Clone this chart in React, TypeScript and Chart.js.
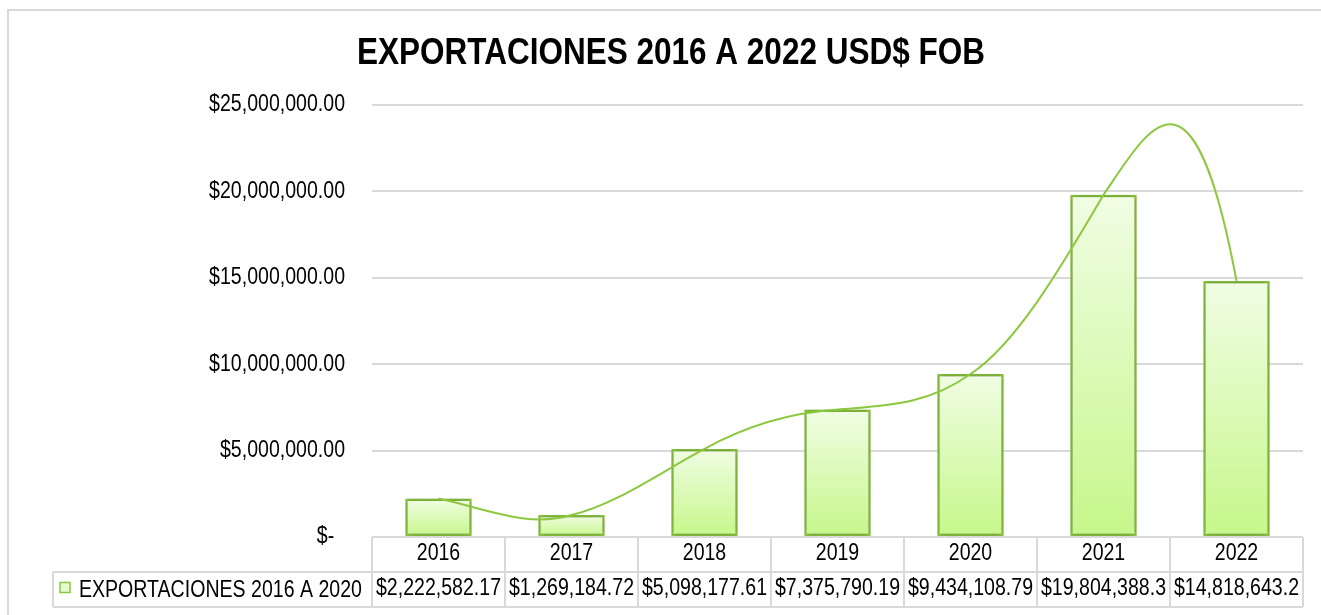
import React, { useEffect, useRef } from 'react';
import { Chart, registerables } from 'chart.js';

Chart.register(...registerables);

// ---------- data ----------
const chartTitle = 'EXPORTACIONES 2016 A 2022 USD$ FOB';
const seriesName = 'EXPORTACIONES 2016 A 2020';
const years = ['2016', '2017', '2018', '2019', '2020', '2021', '2022'];
const exportsUSD = [2222582.17, 1269184.72, 5098177.61, 7375790.19, 9434108.79, 19804388.3, 14818643.2];
const tableValueLabels = ['$2,222,582.17', '$1,269,184.72', '$5,098,177.61', '$7,375,790.19', '$9,434,108.79', '$19,804,388.3', '$14,818,643.2'];
const yMin = 0;
const yMax = 25000000;
const yStep = 5000000;

// ---------- style ----------
const FONT = "'Liberation Sans Narrow', 'Arial Narrow', 'Liberation Sans', Arial, sans-serif";
const GREEN = '#8cc83f';
const GRID = '#d9d9d9';

// The reference uses a narrow face; emulate it by horizontally condensing text on the canvas.
function condenseText(ctx: any) {
  const origFill = ctx.fillText.bind(ctx);
  const origMeasure = ctx.measureText.bind(ctx);
  const factor = () => (/bold/.test(ctx.font) ? 0.875 : 0.85);
  ctx.fillText = (text: string, x: number, y: number, maxWidth?: number) => {
    const f = factor();
    ctx.save();
    ctx.translate(x, y);
    ctx.scale(f, 1);
    if (maxWidth !== undefined && maxWidth !== null) origFill(text, 0, 0, maxWidth / f);
    else origFill(text, 0, 0);
    ctx.restore();
  };
  ctx.measureText = (text: string) => {
    const m = origMeasure(text);
    const f = factor();
    return {
      width: m.width * f,
      actualBoundingBoxAscent: m.actualBoundingBoxAscent,
      actualBoundingBoxDescent: m.actualBoundingBoxDescent,
      actualBoundingBoxLeft: m.actualBoundingBoxLeft * f,
      actualBoundingBoxRight: m.actualBoundingBoxRight * f,
      fontBoundingBoxAscent: m.fontBoundingBoxAscent,
      fontBoundingBoxDescent: m.fontBoundingBoxDescent,
    };
  };
}

// Polynomial trendline (order n-1, as in the reference's spreadsheet trendline) evaluated by Lagrange form
function polyAt(ys: number[], x: number): number {
  const n = ys.length;
  let sum = 0;
  for (let j = 0; j < n; j++) {
    let l = 1;
    for (let k = 0; k < n; k++) if (k !== j) l *= (x - k) / (j - k);
    sum += ys[j] * l;
  }
  return sum;
}

// Shape the library's line segments so each cubic segment follows the trendline polynomial
const trendPlugin = {
  id: 'polyTrend',
  beforeDatasetDraw(chart: any, args: any) {
    const meta = args.meta;
    if (meta.type !== 'line') return;
    const line = meta.dataset;
    if (line && line.updateControlPoints) line.updateControlPoints(chart.chartArea, 'x');
    const ys = chart.scales.y;
    const pts = meta.data;
    for (let i = 0; i < pts.length - 1; i++) {
      const p0 = pts[i];
      const p3 = pts[i + 1];
      const y0 = exportsUSD[i];
      const y3 = exportsUSD[i + 1];
      const a = polyAt(exportsUSD, i + 1 / 3);
      const b = polyAt(exportsUSD, i + 2 / 3);
      const r1 = 27 * a - 8 * y0 - y3;
      const r2 = 27 * b - y0 - 8 * y3;
      const c1 = (2 * r1 - r2) / 18;
      const c2 = (2 * r2 - r1) / 18;
      const dx = p3.x - p0.x;
      p0.cp2x = p0.x + dx / 3;
      p0.cp2y = ys.getPixelForValue(c1);
      p3.cp1x = p0.x + (2 * dx) / 3;
      p3.cp1y = ys.getPixelForValue(c2);
    }
  },
};

const shadowPlugin = {
  id: 'barShadow',
  beforeDatasetDraw(chart: any, args: any) {
    if (args.meta.type !== 'bar') return;
    const c = chart.ctx;
    c.save();
    c.shadowColor = 'rgba(0,0,0,0.3)';
    c.shadowBlur = 6;
  },
  afterDatasetDraw(chart: any, args: any) {
    if (args.meta.type !== 'bar') return;
    chart.ctx.restore();
  },
};

const tablePlugin = {
  id: 'dataTable',
  afterDraw(chart: any) {
    const { ctx, chartArea } = chart;
    const x = chart.scales.x;
    const n = years.length;
    const cat = x.getPixelForValue(1) - x.getPixelForValue(0);
    const rowH = 35;
    const top = x.top;
    const mid = top + rowH;
    const bot = top + 2 * rowH;
    const legendLeft = 44;
    ctx.save();
    ctx.strokeStyle = GRID;
    ctx.lineWidth = 2;
    ctx.beginPath();
    for (let i = 0; i <= n; i++) {
      const xx = Math.round(x.getPixelForValue(0) - cat / 2 + i * cat);
      ctx.moveTo(xx, top);
      ctx.lineTo(xx, bot);
    }
    ctx.moveTo(legendLeft, mid);
    ctx.lineTo(chartArea.right, mid);
    ctx.moveTo(legendLeft, bot);
    ctx.lineTo(chartArea.right, bot);
    ctx.moveTo(legendLeft, mid);
    ctx.lineTo(legendLeft, bot);
    ctx.stroke();

    // legend key
    const cy = mid + rowH / 2 - 2;
    ctx.fillStyle = '#e6fbcf';
    ctx.fillRect(51, cy - 5, 10, 10);
    ctx.strokeStyle = GREEN;
    ctx.lineWidth = 1.5;
    ctx.strokeRect(51, cy - 5, 10, 10);
    ctx.fillStyle = '#000';
    ctx.font = `23px ${FONT}`;
    ctx.textAlign = 'left';
    ctx.textBaseline = 'middle';
    ctx.fillText(seriesName, 70, mid + rowH / 2 + 1);
    ctx.restore();
  },
};

function moneyLabel(v: number): string {
  if (v === 0) return '$-  ';
  return '$' + v.toLocaleString('en-US', { minimumFractionDigits: 2, maximumFractionDigits: 2 });
}

export default function App() {
  const ref = useRef<HTMLCanvasElement>(null);

  useEffect(() => {
    if (!ref.current) return;
    const ctx2d = ref.current.getContext('2d');
    condenseText(ctx2d);
    const chart = new Chart(ref.current, {
      type: 'bar',
      data: {
        labels: years.map((y, i) => [y, tableValueLabels[i]]),
        datasets: [
          {
            type: 'line',
            label: 'trend',
            data: exportsUSD,
            borderColor: GREEN,
            borderWidth: 2,
            pointRadius: 0,
            tension: 0.4,
            fill: false,
            order: 0,
          } as any,
          {
            type: 'bar',
            label: seriesName,
            data: exportsUSD,
            borderColor: GREEN,
            borderWidth: 2.5,
            borderSkipped: false,
            barPercentage: 0.5,
            categoryPercentage: 1,
            order: 1,
            backgroundColor: (c: any) => {
              const ch = c.chart;
              if (!ch.chartArea || c.type !== 'data') return '#e0fbbf';
              const ys = ch.scales.y;
              const topPx = ys.getPixelForValue(c.raw);
              const basePx = ys.getPixelForValue(0);
              const g = ch.ctx.createLinearGradient(0, topPx, 0, basePx);
              g.addColorStop(0, '#f1fde4');
              g.addColorStop(1, '#c6f78a');
              return g;
            },
          } as any,
        ],
      },
      options: {
        animation: false,
        responsive: false,
        devicePixelRatio: 1,
        layout: { padding: { left: 30, right: 42, top: 0, bottom: 40 } },
        plugins: {
          legend: { display: false },
          tooltip: { enabled: false },
          title: {
            display: true,
            text: chartTitle,
            color: '#000',
            font: { family: FONT, size: 36, weight: 'bold', lineHeight: 1.2 },
            padding: { top: 21, bottom: 29.8 },
          },
        },
        scales: {
          x: {
            grid: { display: false, drawTicks: false, tickLength: 0 },
            border: { display: false },
            ticks: {
              autoSkip: false,
              maxRotation: 0,
              minRotation: 0,
              padding: -1,
              color: '#000',
              font: { family: FONT, size: 23, lineHeight: '35px' as any },
            },
            afterFit: (s: any) => {
              s.height = 70;
            },
          },
          y: {
            min: yMin,
            max: yMax,
            grid: { color: GRID, lineWidth: 2, drawTicks: false },
            border: { display: false },
            ticks: {
              stepSize: yStep,
              padding: 27,
              color: '#000',
              font: { family: FONT, size: 23 },
              callback: (v: any) => moneyLabel(Number(v)),
            },
            afterFit: (s: any) => {
              s.width = 333;
            },
          },
        },
      },
      plugins: [trendPlugin, shadowPlugin, tablePlugin],
    });
    return () => chart.destroy();
  }, []);

  return (
    <div
      style={{
        position: 'fixed',
        left: 0,
        top: 0,
        width: 1321,
        height: 615,
        overflow: 'hidden',
        background: '#fff',
      }}
    >
      <div
        style={{
          position: 'absolute',
          left: 7,
          top: 9,
          width: 1340,
          height: 640,
          border: `2px solid ${GRID}`,
          boxSizing: 'border-box',
        }}
      >
        <canvas ref={ref} width={1336} height={636} style={{ display: 'block' }} />
      </div>
    </div>
  );
}
